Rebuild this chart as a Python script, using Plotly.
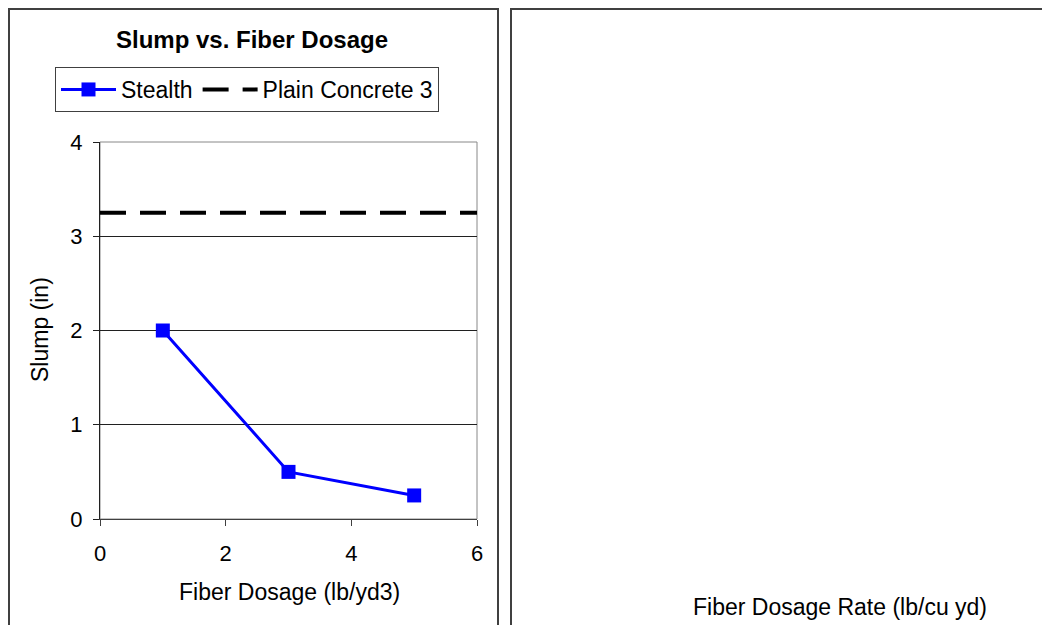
import plotly.graph_objects as go

# Data
dosage = [1, 3, 5]
slump_stealth = [2.0, 0.5, 0.25]
plain_x = [0, 6]
plain_slump = [3.25, 3.25]
x_ticks = [0, 2, 4, 6]
y_ticks = [0, 1, 2, 3, 4]

# page has an 8px body margin; size the figure to fit the 1050x625 window
OFF = 8
W, H = 1050 - OFF, 625 - OFF
FONT = "Liberation Sans, Arial, sans-serif"

def px_x(p):
    return (p - OFF) / W

def px_y(p):
    return 1 - (p - OFF) / H

fig = go.Figure()
fig.add_trace(go.Scatter(
    x=dosage, y=slump_stealth, name="Stealth", mode="lines+markers",
    line=dict(color="#0000ff", width=3),
    marker=dict(symbol="square", size=14, color="#0000ff"),
))
fig.add_trace(go.Scatter(
    x=plain_x, y=plain_slump, name="Plain Concrete 3", mode="lines",
    line=dict(color="black", width=4, dash="26px,14px"),
))

fig.update_layout(
    template="none",
    width=W, height=H,
    margin=dict(l=0, r=0, t=0, b=0, pad=0, autoexpand=False),
    paper_bgcolor="white", plot_bgcolor="white",
    font=dict(family=FONT, size=22, color="black"),
    title=dict(text="<b>Slump vs. Fiber Dosage</b>", x=px_x(252), y=px_y(40),
               xanchor="center", yanchor="middle",
               font=dict(family=FONT, size=24, color="black")),
    showlegend=True,
    legend=dict(orientation="h", x=px_x(55), y=px_y(67), xanchor="left", yanchor="top",
                bordercolor="#404040", borderwidth=1, bgcolor="white",
                font=dict(family=FONT, size=23), itemwidth=55,
                tracegroupgap=0, itemsizing="trace"),
    xaxis=dict(domain=[px_x(100), px_x(477)], range=[0, 6], tickvals=x_ticks,
               automargin=False,
               showgrid=False, zeroline=False, showline=True, linecolor="#404040",
               linewidth=1, ticks="outside", ticklen=6, tickcolor="#404040",
               ticklabelstandoff=9,
               tickfont=dict(size=22), fixedrange=True),
    yaxis=dict(domain=[px_y(519), px_y(142)], range=[0, 4], tickvals=y_ticks,
               automargin=False,
               showgrid=True, gridcolor="#202020", gridwidth=1, zeroline=False,
               showline=True, linecolor="#202020", linewidth=1,
               ticks="outside", ticklen=6, tickcolor="#202020",
               ticklabelstandoff=6,
               tickfont=dict(size=22), fixedrange=True),
    shapes=[
        dict(type="rect", xref="x domain", yref="y domain", x0=0, x1=1, y0=0, y1=1,
             line=dict(color="#888888", width=1), layer="below"),
        dict(type="rect", xref="paper", yref="paper", x0=px_x(9), x1=px_x(498),
             y0=px_y(640), y1=px_y(9), line=dict(color="#404040", width=2)),
        dict(type="rect", xref="paper", yref="paper", x0=px_x(511), x1=px_x(1070),
             y0=px_y(640), y1=px_y(9), line=dict(color="#404040", width=2)),
    ],
    annotations=[
        dict(text="Fiber Dosage (lb/yd3)", xref="paper", yref="paper",
             x=px_x(289), y=px_y(592), xanchor="center", yanchor="middle",
             showarrow=False, font=dict(family=FONT, size=23, color="black")),
        dict(text="Slump (in)", xref="paper", yref="paper", textangle=-90,
             x=px_x(40), y=px_y(330), xanchor="center", yanchor="middle",
             showarrow=False, font=dict(family=FONT, size=23, color="black")),
        dict(text="Fiber Dosage Rate (lb/cu yd)", xref="paper", yref="paper",
             x=px_x(840), y=px_y(607), xanchor="center", yanchor="middle",
             showarrow=False, font=dict(family=FONT, size=23, color="black")),
    ],
)

fig.write_html("out.html")
